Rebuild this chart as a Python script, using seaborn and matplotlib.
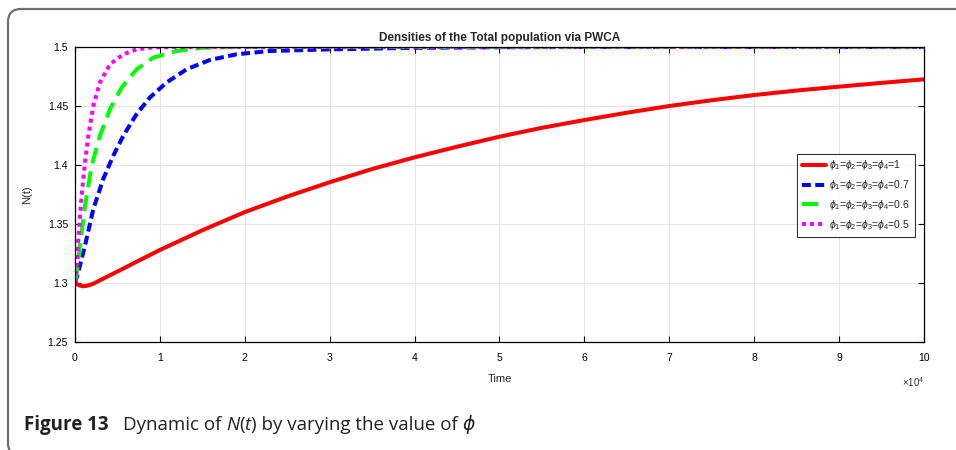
import numpy as np
import pandas as pd
import matplotlib
matplotlib.use("Agg")
import matplotlib.pyplot as plt
import seaborn as sns
from matplotlib.patches import FancyBboxPatch
from matplotlib.transforms import IdentityTransform, offset_copy
from matplotlib.ticker import FuncFormatter
from matplotlib.lines import Line2D

# ---- data (time in units of 1e4) ----
t_red = [0, 0.05, 0.098, 0.15, 0.216, 0.333, 0.53, 0.725, 1.0, 1.5, 2.0, 2.5,
         3.0, 3.5, 4.0, 4.5, 5.0, 5.5, 6.0, 6.5, 7.0, 7.5, 8.0, 8.5, 9.0, 9.5, 10]
n_red = [1.300, 1.2980, 1.2972, 1.2978, 1.2994, 1.3037, 1.3108, 1.3180, 1.3280,
         1.3447, 1.3601, 1.3733, 1.3854, 1.3966, 1.4065, 1.4155, 1.4240, 1.4315,
         1.4381, 1.4443, 1.4500, 1.4549, 1.4593, 1.4631, 1.4664, 1.4696, 1.4726]

t_blue = [0, 0.039, 0.118, 0.216, 0.333, 0.451, 0.569, 0.725, 0.882, 1.078, 1.314,
          1.588, 1.902, 2.29, 3.0, 4.0, 5.0, 6.0, 8.0, 10]
n_blue = [1.3, 1.3093, 1.3318, 1.3628, 1.3882, 1.4079, 1.4248, 1.4431, 1.4572,
          1.4699, 1.4811, 1.489, 1.4938, 1.4966, 1.498, 1.4993, 1.4998, 1.5, 1.5, 1.5]

t_green = [0, 0.02, 0.059, 0.118, 0.196, 0.294, 0.412, 0.549, 0.725, 0.922, 1.196,
           1.51, 1.9, 3.0, 10]
n_green = [1.3, 1.3093, 1.3318, 1.3656, 1.3994, 1.4248, 1.4473, 1.4656, 1.4811,
           1.491, 1.4966, 1.4994, 1.5, 1.5, 1.5]

t_mag = [0, 0.012, 0.039, 0.078, 0.118, 0.157, 0.216, 0.294, 0.412, 0.569, 0.725,
         0.922, 1.5, 10]
n_mag = [1.3, 1.3065, 1.3375, 1.3741, 1.4023, 1.4248, 1.4501, 1.4699, 1.4854,
         1.4938, 1.498, 1.4997, 1.5, 1.5]

labels = [r'$\phi_1$=$\phi_2$=$\phi_3$=$\phi_4$=1',
          r'$\phi_1$=$\phi_2$=$\phi_3$=$\phi_4$=0.7',
          r'$\phi_1$=$\phi_2$=$\phi_3$=$\phi_4$=0.6',
          r'$\phi_1$=$\phi_2$=$\phi_3$=$\phi_4$=0.5']
x_ticks = [0, 1, 2, 3, 4, 5, 6, 7, 8, 9, 10]
y_ticks = [1.25, 1.3, 1.35, 1.4, 1.45, 1.5]

series = [(t_red, n_red), (t_blue, n_blue), (t_green, n_green), (t_mag, n_mag)]
frames = []
for (t, n), lab in zip(series, labels):
    frames.append(pd.DataFrame({"Time": t, "N": n, "case": lab}))
df = pd.concat(frames, ignore_index=True)

sns.set_theme(style="white")
plt.rcParams['font.family'] = ['Liberation Sans', 'DejaVu Sans']
plt.rcParams['mathtext.fontset'] = 'custom'
plt.rcParams['mathtext.rm'] = 'Liberation Sans'
plt.rcParams['mathtext.it'] = 'Liberation Sans:italic'
plt.rcParams['mathtext.bf'] = 'Liberation Sans:bold'

fig = plt.figure(figsize=(9.56, 4.5), dpi=100)
ax = fig.add_axes([75/956, 108/450, 849/956, 295/450])

colors = ["#ff0000", "#0000ff", "#00ff00", "#ff00ff"]
palette = dict(zip(labels, colors))
LW = 2.9
sns.lineplot(data=df, x="Time", y="N", hue="case", palette=palette, ax=ax,
             sort=False, estimator=None, legend=False, linewidth=LW)

styles = ['-', (0, (2.2, 1.1)), (0, (4.0, 2.0)), (0, (1.0, 1.0))]
for line, st in zip(ax.get_lines(), styles):
    line.set_linestyle(st)
    line.set_solid_capstyle('butt')
    line.set_dash_capstyle('butt')
    line.set_solid_joinstyle('round')

ax.set_xlim(0, 10)
ax.set_ylim(1.25, 1.5)
ax.set_xticks(x_ticks)
ax.set_yticks(y_ticks)
ax.yaxis.set_major_formatter(FuncFormatter(lambda v, p: f"{v:g}"))
ax.grid(True, color="#e6e6e6", linewidth=0.7)
ax.tick_params(direction="in", length=4, width=0.8, top=True, right=True,
               bottom=True, left=True, labelsize=7.5, colors="black")
ax.tick_params(axis='x', pad=8)
ax.tick_params(axis='y', pad=5)
for s in ax.spines.values():
    s.set_color("black")
    s.set_linewidth(0.9)

ax.set_title("Densities of the Total population via PWCA", fontsize=8.5,
             fontweight="bold", pad=4)
ax.set_xlabel("Time", fontsize=8, labelpad=8)
ax.set_ylabel("N(t)", fontsize=8, labelpad=11)
ax.text(1.0, -0.112, r"$\times$10$^4$", transform=ax.transAxes, ha="right",
        va="top", fontsize=7, color="#333333")

handles = [Line2D([], [], color=c, lw=LW, linestyle=st, dash_capstyle='butt')
           for c, st in zip(colors, styles)]
leg = ax.legend(handles, labels, loc="upper left", bbox_to_anchor=(0.851, 0.638),
                fontsize=7.5, frameon=True, fancybox=False, edgecolor="black",
                handlelength=2.3, handletextpad=0.3, labelspacing=0.56,
                borderpad=0.45, borderaxespad=0)
leg.get_frame().set_linewidth(0.8)

# outer rounded frame
frame = FancyBboxPatch((8, -6), 1000, 447, boxstyle="round,pad=0,rounding_size=13",
                       transform=IdentityTransform(), facecolor="none",
                       edgecolor="#6e6e6e", linewidth=1.6)
fig.add_artist(frame)

# caption, built from pieces
pieces = [("Figure 13", "bold", "normal", 0), ("Dynamic of ", "normal", "normal", 14),
          ("N", "normal", "italic", 0), ("(", "normal", "normal", 0),
          ("t", "normal", "italic", 0), (") by varying the value of ", "normal", "normal", 0),
          ("\u03d5", "normal", "italic", 0)]
renderer = fig.canvas.get_renderer()
x0 = 24.0
y0 = 450 - 430
for txt, w, st, gap in pieces:
    x0 += gap
    tr = offset_copy(fig.transFigure, fig=fig, x=x0, y=y0, units='dots')
    t = fig.text(0, 0, txt, transform=tr, fontsize=13.5, fontweight=w, fontstyle=st,
                 family=['Open Sans', 'DejaVu Sans'], ha='left', va='baseline',
                 color="#222222")
    bb = t.get_window_extent(renderer=renderer)
    x0 += bb.width

fig.savefig("out.png", dpi=100)
